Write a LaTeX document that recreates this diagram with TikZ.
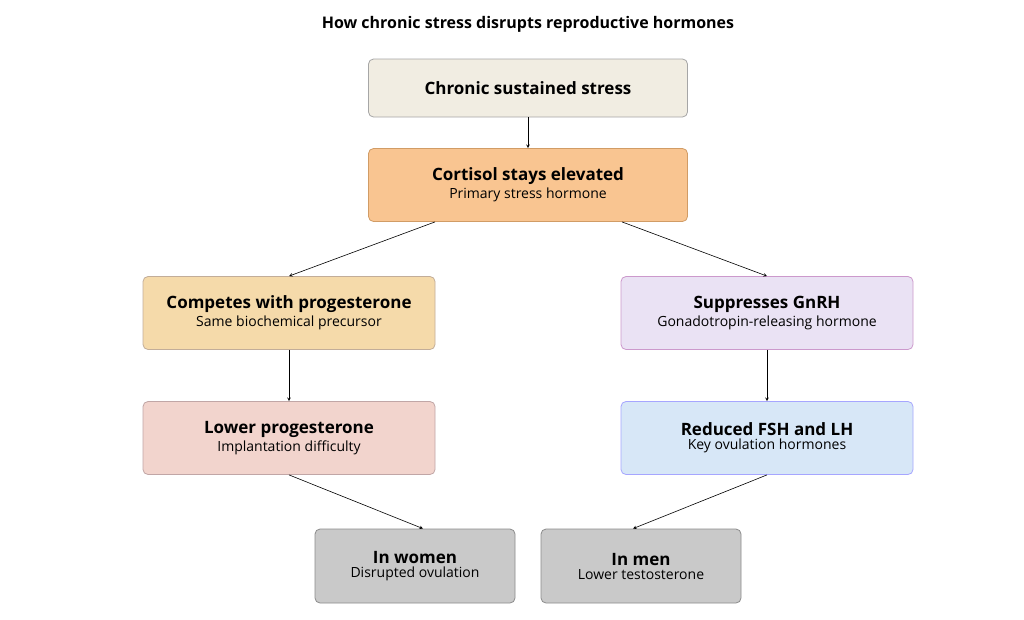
\documentclass[tikz,border=0pt]{standalone}
\usepackage{fontspec}
\setmainfont{Open Sans}
\usetikzlibrary{arrows}
\definecolor{cbeige}{HTML}{F1EDE2}
\definecolor{corange}{HTML}{F9C591}
\definecolor{cpeach}{HTML}{F5DAAA}
\definecolor{clav}{HTML}{EAE2F4}
\definecolor{crose}{HTML}{F2D4CD}
\definecolor{cblue}{HTML}{D7E7F7}
\definecolor{cgray}{HTML}{C9C9C9}
\tikzstyle{box} = [rectangle, rounded corners=5pt, minimum width=292pt, minimum height=73pt, text centered, align=center, draw=black!35, line width=0.8pt]
\tikzstyle{arrow} = [semithick,->,>=stealth]
\newcommand{\hd}[1]{{\fontsize{17}{21}\selectfont\bfseries #1}}
\newcommand{\sub}[1]{{\fontsize{14}{18}\selectfont #1}}

\begin{document}
\begin{tikzpicture}[x=1pt,y=-1pt]
\useasboundingbox[fill=white] (0,0) rectangle (1024,619);

\node (title) at (528,24) {\fontsize{16}{20}\selectfont\bfseries How chronic stress disrupts reproductive hormones};
\node (stress) [box, fill=cbeige, minimum width=319pt, minimum height=58pt] at (528,88) {\hd{Chronic sustained stress}};
\node (cort) [box, fill=corange, draw=orange!70!black!60, minimum width=319pt] at (528,185) {\hd{Cortisol stays elevated}\\[2pt]\sub{Primary stress hormone}};
\node (comp) [box, fill=cpeach, draw=orange!40!black!40] at (289,313) {\hd{Competes with progesterone}\\[2pt]\sub{Same biochemical precursor}};
\node (gnrh) [box, fill=clav, draw=violet!40] at (767,313) {\hd{Suppresses GnRH}\\[2pt]\sub{Gonadotropin-releasing hormone}};
\node (prog) [box, fill=crose, draw=red!30!black!35] at (289,438) {\hd{Lower progesterone}\\[2pt]\sub{Implantation difficulty}};
\node (fsh) [box, fill=cblue, draw=blue!35] at (767,438) {\hd{Reduced FSH and LH}\\[2pt]\sub{Key ovulation hormones}};
\node (women) [box, fill=cgray, draw=black!45, minimum width=200pt, minimum height=74pt] at (415,566) {\hd{In women}\\[2pt]\sub{Disrupted ovulation}};
\node (men) [box, fill=cgray, draw=black!45, minimum width=200pt, minimum height=74pt] at (641,566) {\hd{In men}\\[2pt]\sub{Lower testosterone}};

\draw [arrow] (stress) -- (cort);
\draw [arrow] ([xshift=-93pt]cort.south) -- (comp.north);
\draw [arrow] ([xshift=94pt]cort.south) -- (gnrh.north);
\draw [arrow] (comp) -- (prog);
\draw [arrow] (gnrh) -- (fsh);
\draw [arrow] (prog.south) -- ([xshift=8pt]women.north);
\draw [arrow] (fsh.south) -- ([xshift=-8pt]men.north);

\end{tikzpicture}
\end{document}
